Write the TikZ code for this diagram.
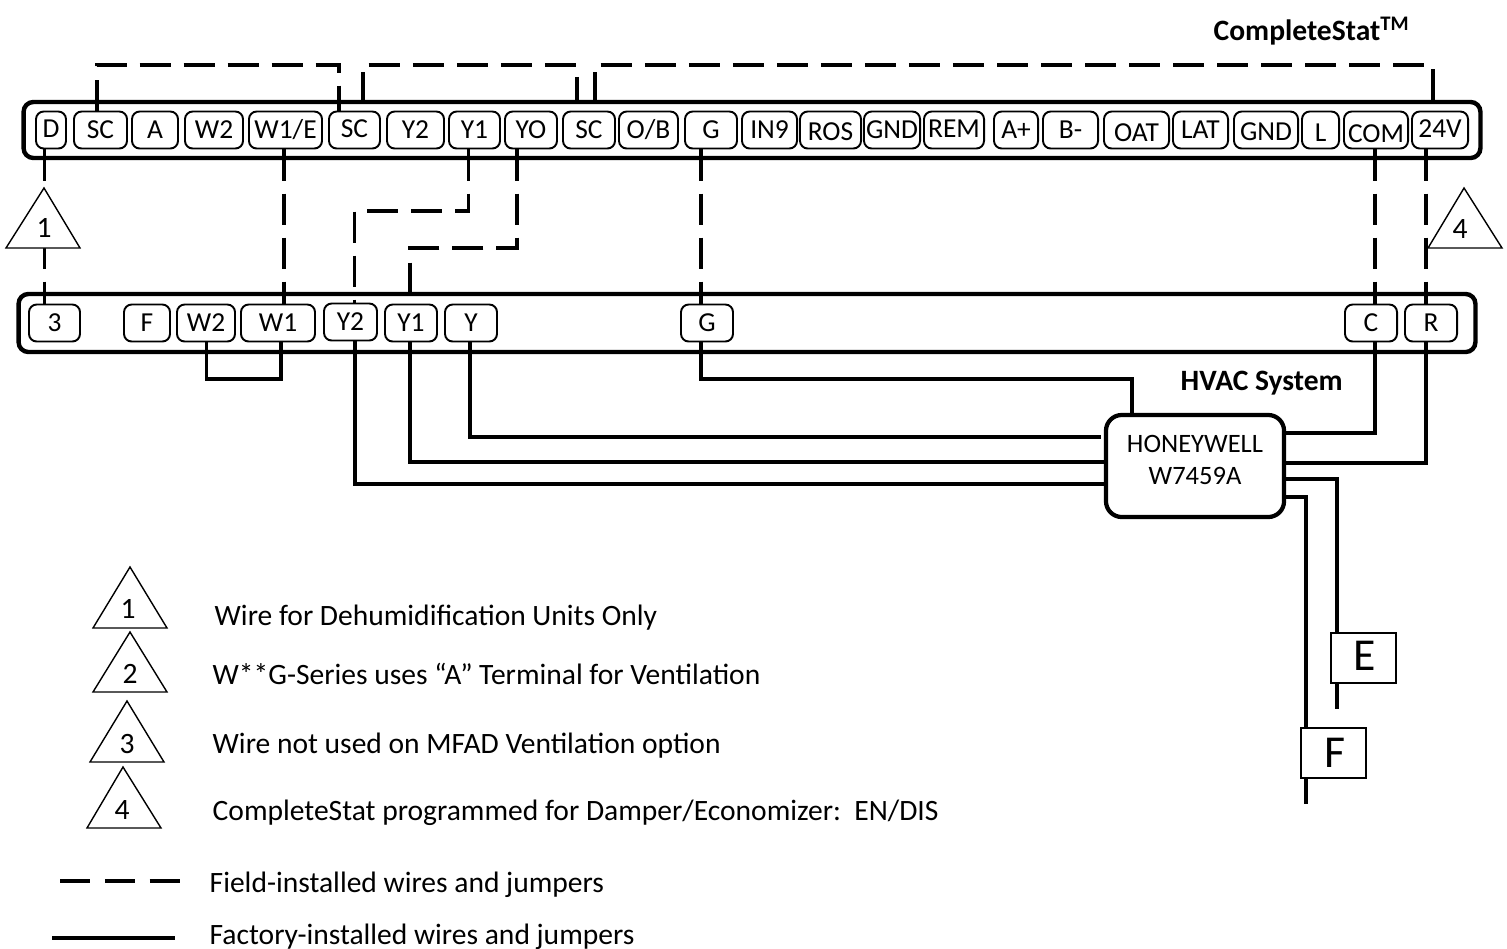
\documentclass[tikz,border=0pt]{standalone}
\usepackage{fontspec}
\setmainfont{Carlito}
\usepackage{tikz}
\tikzset{
	terminal/.style={draw,line width=0.55pt,rounded corners=2.2pt,inner sep=0pt,minimum height=0.37cm,fill=white,text height=5pt,text depth=0pt,font=\fontsize{7.8}{9}\selectfont},
	panel/.style={draw,line width=1.25pt,rounded corners=2.8pt,inner sep=0pt,minimum height=0.56cm},
	fieldwire/.style={line width=1.05pt,dash pattern=on 8.82pt off 3.7pt},
	factorywire/.style={line width=1.05pt},
	notetri/.style={draw,line width=0.4pt,fill=white},
	notetext/.style={font=\fontsize{8.4}{9}\selectfont},
	legendtext/.style={anchor=west,inner sep=0pt,font=\fontsize{8.4}{9}\selectfont},
	title/.style={anchor=west,inner sep=0pt,font=\fontsize{8.4}{9}\selectfont\bfseries},
	tagbox/.style={draw,line width=0.6pt,fill=white,inner sep=0pt,minimum width=0.65cm,minimum height=0.5cm},
	tagtext/.style={font=\fontsize{13}{14}\selectfont}
}

\begin{document}
\begin{tikzpicture}[x=0.01cm,y=-0.01cm]
		\useasboundingbox (0,0) rectangle (1507,948);
		% CompleteStat strip
		\node[panel,minimum width=14.56cm] (topBar) at (752,130) {};
		\node[terminal,minimum width=0.30cm] (tD) at (51,130) {\raisebox{0.3pt}{D}};
		\node[terminal,minimum width=0.53cm] (tSCa) at (100.5,130) {SC};
		\node[terminal,minimum width=0.46cm] (tA) at (155,130) {A};
		\node[terminal,minimum width=0.58cm] (tWtwo) at (214,130) {W2};
		\node[terminal,minimum width=0.73cm] (tWE) at (285.5,130) {W1/E};
		\node[terminal,minimum width=0.51cm] (tSCb) at (354.5,130) {\raisebox{0.5pt}{SC}};
		\node[terminal,minimum width=0.57cm] (tYtwo) at (415.5,130) {Y2};
		\node[terminal,minimum width=0.51cm] (tYone) at (474.5,130) {Y1};
		\node[terminal,minimum width=0.52cm] (tYO) at (531,130) {YO};
		\node[terminal,minimum width=0.52cm] (tSCc) at (589,130) {SC};
		\node[terminal,minimum width=0.59cm] (tOB) at (648.5,130) {O/B};
		\node[terminal,minimum width=0.52cm] (tG) at (711,130) {G};
		\node[terminal,minimum width=0.55cm] (tIN) at (769.5,130) {IN9};
		\node[terminal,minimum width=0.61cm] (tROS) at (830.5,130) {\raisebox{-0.6pt}{ROS}};
		\node[terminal,minimum width=0.56cm] (tGNDa) at (892,130) {GND};
		\node[terminal,minimum width=0.60cm] (tREM) at (954,130) {\raisebox{0.5pt}{REM}};
		\node[terminal,minimum width=0.44cm] (tAp) at (1016,130) {A+};
		\node[terminal,minimum width=0.55cm] (tBm) at (1070.5,130) {B-};
		\node[terminal,minimum width=0.65cm] (tOAT) at (1136.5,130) {\raisebox{-0.85pt}{OAT}};
		\node[terminal,minimum width=0.55cm] (tLAT) at (1200.5,130) {LAT};
		\node[terminal,minimum width=0.64cm] (tGNDb) at (1266,130) {\raisebox{-0.6pt}{GND}};
		\node[terminal,minimum width=0.37cm] (tL) at (1320.5,130) {\raisebox{-0.85pt}{L}};
		\node[terminal,minimum width=0.64cm] (tCOM) at (1376,130) {\raisebox{-1.1pt}{COM}};
		\node[terminal,minimum width=0.56cm] (tV) at (1440,130) {\raisebox{0.5pt}{24V}};
		% HVAC strip
		\node[panel,minimum width=14.56cm,minimum height=0.58cm] (lowBar) at (747,323) {};
		\node[terminal,minimum width=0.51cm] (bThree) at (54.5,323) {3};
		\node[terminal,minimum width=0.46cm] (bF) at (147,323) {F};
		\node[terminal,minimum width=0.58cm] (bWtwo) at (206,323) {W2};
		\node[terminal,minimum width=0.74cm] (bWone) at (278,323) {W1};
		\node[terminal,minimum width=0.53cm] (bYtwo) at (350.5,322) {Y2};
		\node[terminal,minimum width=0.52cm] (bYone) at (411,323) {Y1};
		\node[terminal,minimum width=0.52cm] (bY) at (471,323) {Y};
		\node[terminal,minimum width=0.52cm] (bG) at (707,323) {G};
		\node[terminal,minimum width=0.52cm] (bC) at (1371,323) {C};
		\node[terminal,minimum width=0.52cm] (bR) at (1431,323) {R};
		% controller and its two tags
		\node[draw,line width=1.2pt,rounded corners=4.5pt,inner sep=0pt,minimum width=1.78cm,minimum height=1.02cm] (hw) at (1195,466) {};
		\node[align=center,inner sep=0pt,font=\fontsize{7.55}{9.1}\selectfont] (hwText) at (1195,460) {HONEYWELL\\W7459A};
		\node[tagbox] (boxE) at (1363.5,658) {};
		\node[tagtext] (letterE) at (1365,656) {E};
		\node[tagbox] (boxF) at (1333.5,753) {};
		\node[tagtext] (letterF) at (1335,753) {F};
		\coordinate (endE) at (1337,709);
		\coordinate (endF) at (1306,804);
		\coordinate (endY) at (1101,437);
		% field wires
		\draw[fieldwire] (97,0 |- tSCa.north) -- (97,65) -- (339,65) -- (339,0 |- tSCb.north);
		\draw[fieldwire,dash phase=1pt] (363,0 |- topBar.north) -- (363,65) -- (577,65) -- (577,0 |- topBar.north);
		\draw[fieldwire,dash phase=1pt] (595,0 |- topBar.north) -- (595,65) -- (1433,65) -- (1433,0 |- topBar.north);
		\draw[fieldwire] (44.5,0 |- tD.south) -- (44.5,0 |- bThree.north);
		\draw[fieldwire] (284,0 |- tWE.south) -- (284,0 |- bWone.north);
		\draw[fieldwire] (468.5,0 |- tYone.south) -- (468.5,211) -- (354.5,211) -- (354.5,0 |- bYtwo.north);
		\draw[fieldwire] (517,0 |- tYO.south) -- (517,248) -- (410,248) -- (410,0 |- lowBar.north);
		\draw[fieldwire] (701,0 |- tG.south) -- (701,0 |- bG.north);
		\draw[fieldwire] (1375,0 |- tCOM.south) -- (1375,0 |- bC.north);
		\draw[fieldwire] (1426,0 |- tV.south) -- (1426,0 |- bR.north);
		% factory wires
		\draw[factorywire] (206.5,0 |- bWtwo.south) -- (206.5,379) -- (281,379) -- (281,0 |- bWone.south);
		\draw[factorywire] (355,0 |- bYtwo.south) -- (355,484) -- (hw.west |- 0,484);
		\draw[factorywire] (410,0 |- bYone.south) -- (410,462) -- (hw.west |- 0,462);
		\draw[factorywire] (470,0 |- bY.south) -- (470,437) -- (endY);
		\draw[factorywire] (701,0 |- bG.south) -- (701,379) -- (1132,379) -- (1132,0 |- hw.north);
		\draw[factorywire] (1375,0 |- bC.south) -- (1375,433) -- (hw.east |- 0,433);
		\draw[factorywire] (1426,0 |- bR.south) -- (1426,463) -- (hw.east |- 0,463);
		\draw[factorywire] (hw.east |- 0,479) -- (1337,479) -- (1337,0 |- boxE.north);
		\draw[factorywire] (1337,0 |- boxE.south) -- (endE);
		\draw[factorywire] (hw.east |- 0,497) -- (1306,497) -- (1306,0 |- boxF.north);
		\draw[factorywire] (1306,0 |- boxF.south) -- (endF);
		% notes on the wires
		\draw[notetri] (6,248) -- (44,188) -- (80,248) -- cycle;
		\node[notetext] (markA) at (44,228) {1};
		\draw[notetri] (1428,248) -- (1464,188) -- (1502,248) -- cycle;
		\node[notetext] (markD) at (1460,229) {4};
		% notes legend
		\draw[notetri] (93,628) -- (130,567) -- (167,628) -- cycle;
		\node[notetext] (keyA) at (128,609) {1};
		\node[legendtext] (keyAtext) at (214,618) {Wire for Dehumidification Units Only};
		\draw[notetri] (93,692) -- (130,632) -- (167,692) -- cycle;
		\node[notetext] (keyB) at (130,674) {2};
		\node[legendtext] (keyBtext) at (212,674) {W**G-Series uses “A” Terminal for Ventilation};
		\draw[notetri] (90,762) -- (127,701) -- (164,762) -- cycle;
		\node[notetext] (keyC) at (127,744) {3};
		\node[legendtext] (keyCtext) at (212,746) {Wire not used on MFAD Ventilation option};
		\draw[notetri] (87,828) -- (123,767) -- (161,828) -- cycle;
		\node[notetext] (keyD) at (122,810) {4};
		\node[legendtext] (keyDtext) at (212,813) {CompleteStat programmed for Damper/Economizer:\ \ EN/DIS};
		% line legend
		\coordinate (fieldA) at (60,881);
		\coordinate (fieldB) at (180,881);
		\coordinate (factoryA) at (52,938);
		\coordinate (factoryB) at (175,938);
		\draw[line width=1.05pt,dash pattern=on 8.5pt off 4.26pt] (fieldA) -- (fieldB);
		\draw[line width=1.05pt] (factoryA) -- (factoryB);
		\node[legendtext] (fieldText) at (209,885) {Field-installed wires and jumpers};
		\node[legendtext] (factoryText) at (209,937) {Factory-installed wires and jumpers};
		% titles
		\node[title] (statTitle) at (1213,31) {CompleteStat\textsuperscript{TM}};
		\node[title] (hvacTitle) at (1180,383) {HVAC System};
		\end{tikzpicture}
\end{document}
